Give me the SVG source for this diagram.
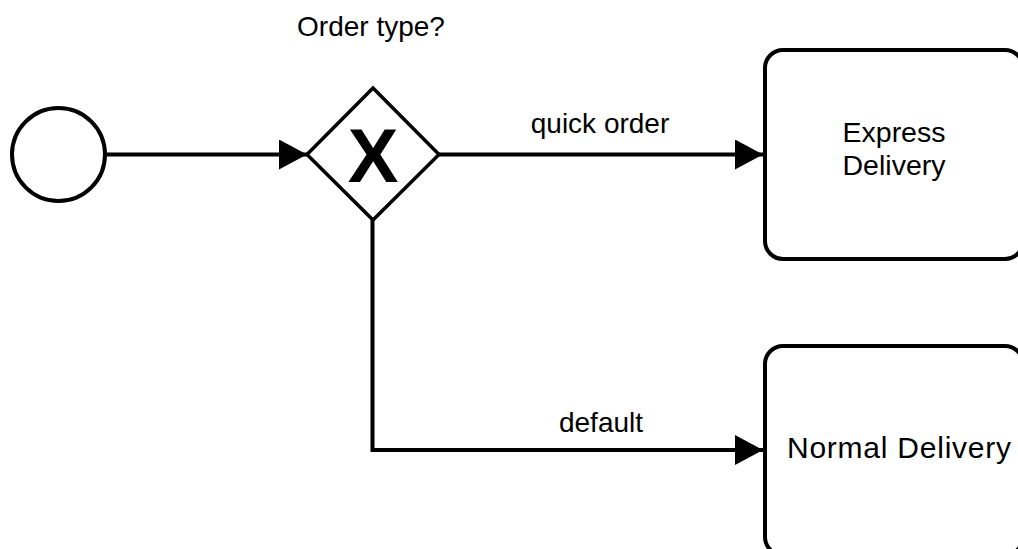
<svg xmlns="http://www.w3.org/2000/svg" width="1018" height="549" viewBox="0 0 1018 549">
  <style>
    .shape { fill: #ffffff; stroke: #000000; }
    .flow { fill: none; stroke: #000000; stroke-width: 4; }
    .label { font-family: "Liberation Sans", Arial, sans-serif; font-size: 28px; fill: #000000; text-anchor: middle; }
    .task-text { font-family: "Liberation Sans", Arial, sans-serif; font-size: 28.5px; fill: #000000; text-anchor: middle; }
    .marker-x { font-family: "Liberation Sans", Arial, sans-serif; font-size: 76px; font-weight: bold; fill: #000000; text-anchor: middle; }
  </style>
  <defs>
    <marker id="arrow" viewBox="0 0 28 30" refX="28" refY="15" markerWidth="28" markerHeight="30" markerUnits="userSpaceOnUse" orient="auto">
      <path d="M0,0 L28,15 L0,30 Z" fill="#000000"/>
    </marker>
  </defs>

  <rect width="1018" height="549" fill="#ffffff"/>

  <!-- sequence flows -->
  <g id="connectors">
    <path id="flow-start-gateway" class="flow" d="M107,154.5 L307,154.5" marker-end="url(#arrow)"/>
    <path id="flow-quick" class="flow" d="M439,154.5 L763,154.5" marker-end="url(#arrow)"/>
    <path id="flow-default" class="flow" d="M372.5,220 L372.5,450 L763,450" marker-end="url(#arrow)"/>
    <text class="label" x="600" y="133">quick order</text>
    <text class="label" x="601" y="432">default</text>
  </g>

  <!-- start event -->
  <g id="start-event">
    <circle class="shape" cx="58.5" cy="154.5" r="46.5" stroke-width="4"/>
  </g>

  <!-- exclusive gateway -->
  <g id="gateway-order-type">
    <polygon class="shape" points="307,154.5 373,88 439,154.5 373,220" stroke-width="3.5"/>
    <text class="marker-x" x="373" y="182">X</text>
    <text class="label" x="371" y="36">Order type?</text>
  </g>

  <!-- tasks -->
  <g id="task-express">
    <rect class="shape" x="765" y="50" width="258" height="209" rx="18" ry="18" stroke-width="4"/>
    <text class="task-text" x="894" y="142">Express</text>
    <text class="task-text" x="894" y="175">Delivery</text>
  </g>

  <g id="task-normal">
    <rect class="shape" x="765" y="346" width="258" height="209" rx="18" ry="18" stroke-width="4"/>
    <text class="task-text" x="899" y="458" style="font-size:30px" textLength="224" lengthAdjust="spacing">Normal Delivery</text>
  </g>
</svg>
